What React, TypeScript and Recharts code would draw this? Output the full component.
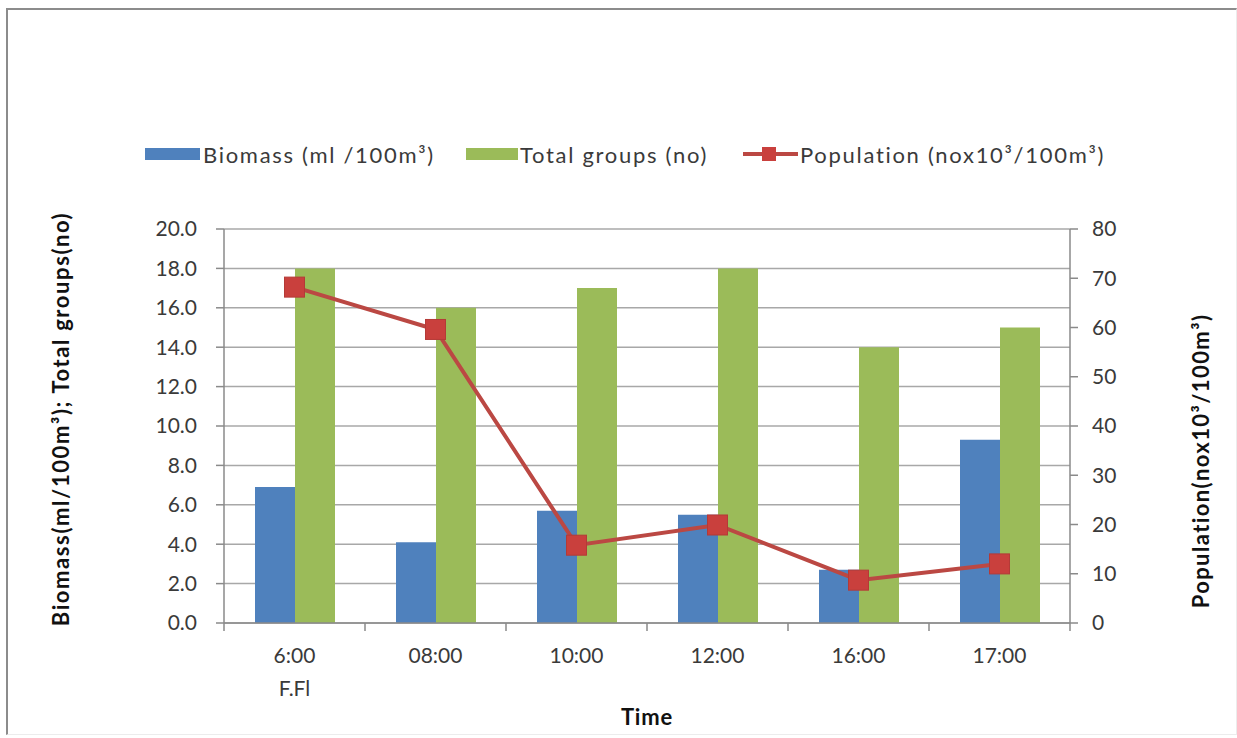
import React from 'react';
import {
  ComposedChart,
  Bar,
  Line,
  XAxis,
  YAxis,
  CartesianGrid,
} from 'recharts';

// Sampling times (second word, if any, goes on a second line)
const times = ['6:00 F.Fl', '08:00', '10:00', '12:00', '16:00', '17:00'];
// Biomass (ml / 100 m³)
const biomass = [6.9, 4.1, 5.7, 5.5, 2.7, 9.3];
// Total groups (no)
const totalGroups = [18, 16, 17, 18, 14, 15];
// Population (no x10³ / 100 m³)
const population = [68.2, 59.6, 15.8, 19.9, 8.7, 12.0];

const leftTicks = [0, 2, 4, 6, 8, 10, 12, 14, 16, 18, 20];
const rightTicks = [0, 10, 20, 30, 40, 50, 60, 70, 80];

const data = times.map((t, i) => ({
  time: t,
  biomass: biomass[i],
  groups: totalGroups[i],
  population: population[i],
}));

const FONT = 'Lato, "Open Sans", sans-serif';
const TEXT = '#3a3a3a';
const AXIS = '#8a8a8a';
const BLUE = '#4f81bd';
const GREEN = '#9bbb59';
const RED_LINE = '#bb4843';
const RED_MARK = '#c9403d';

const tickStyle = { fontFamily: FONT, fontSize: 21, fill: TEXT };

function TimeTick(props: any) {
  const { x, y, payload, index } = props;
  const half = payload && payload.offset ? payload.offset : 70.5;
  const lines = String(payload.value).split(' ');
  const isLast = index === times.length - 1;
  return (
    <g>
      <line x1={x - half} y1={y} x2={x - half} y2={y + 8} stroke={AXIS} strokeWidth={1.5} />
      {isLast && (
        <line x1={x + half} y1={y} x2={x + half} y2={y + 8} stroke={AXIS} strokeWidth={1.5} />
      )}
      {lines.map((ln, k) => (
        <text
          key={k}
          x={x}
          y={y + 40 + k * 33}
          textAnchor="middle"
          fontFamily={FONT}
          fontSize={21}
          fill={TEXT}
        >
          {ln}
        </text>
      ))}
    </g>
  );
}

function SquareDot(props: any) {
  const { cx, cy } = props;
  if (cx == null || cy == null) return null;
  const s = 20;
  return (
    <rect
      x={cx - s / 2}
      y={cy - s / 2}
      width={s}
      height={s}
      fill={RED_MARK}
      stroke="#b43a37"
      strokeWidth={1}
    />
  );
}

const legendText: React.CSSProperties = {
  position: 'absolute',
  top: 141,
  fontSize: 22,
  letterSpacing: 1.7,
  color: TEXT,
  whiteSpace: 'nowrap',
  lineHeight: '28px',
};

const titleText: React.CSSProperties = {
  position: 'absolute',
  fontSize: 22,
  fontWeight: 700,
  color: '#111',
  whiteSpace: 'nowrap',
};

export default function App() {
  return (
    <div
      style={{
        position: 'absolute',
        left: 0,
        top: 0,
        width: 1237,
        height: 738,
        background: '#ffffff',
        overflow: 'hidden',
        fontFamily: FONT,
      }}
    >
      {/* frame */}
      <div
        style={{
          position: 'absolute',
          left: 6,
          top: 8,
          width: 1228,
          height: 724,
          borderTop: '2px solid #8c8c8c',
          borderLeft: '2px solid #8c8c8c',
          borderRight: '1px solid #ececec',
          borderBottom: '1px solid #ececec',
        }}
      />

      <ComposedChart
        width={1237}
        height={738}
        data={data}
        margin={{ top: 229, right: 107, bottom: 75, left: 164 }}
        barCategoryGap={31}
        barGap={0}
        style={{ position: 'absolute', left: 0, top: 0 }}
      >
        <CartesianGrid yAxisId="left" vertical={false} stroke="#a8a8a8" strokeWidth={1.5} />
        <XAxis
          dataKey="time"
          height={40}
          tickSize={0}
          tickMargin={0}
          tickLine={false}
          axisLine={{ stroke: AXIS, strokeWidth: 1.5 }}
          tick={<TimeTick />}
          interval={0}
        />
        <YAxis
          yAxisId="left"
          width={60}
          domain={[0, 20]}
          ticks={leftTicks}
          interval={0}
          tickFormatter={(v: number) => v.toFixed(1)}
          tickSize={8}
          tickMargin={19}
          tick={tickStyle}
          axisLine={{ stroke: AXIS, strokeWidth: 1.5 }}
          tickLine={{ stroke: AXIS, strokeWidth: 1.5 }}
        />
        <YAxis
          yAxisId="right"
          orientation="right"
          width={60}
          domain={[0, 80]}
          ticks={rightTicks}
          interval={0}
          tickSize={8}
          tickMargin={14}
          tick={{ ...tickStyle, textAnchor: 'start' }}
          axisLine={{ stroke: AXIS, strokeWidth: 1.5 }}
          tickLine={{ stroke: AXIS, strokeWidth: 1.5 }}
        />
        <Bar yAxisId="left" dataKey="biomass" fill={BLUE} isAnimationActive={false} />
        <Bar yAxisId="left" dataKey="groups" fill={GREEN} isAnimationActive={false} />
        <Line
          yAxisId="right"
          dataKey="population"
          stroke={RED_LINE}
          strokeWidth={4}
          dot={<SquareDot />}
          activeDot={false}
          isAnimationActive={false}
        />
      </ComposedChart>

      {/* legend */}
      <div style={{ position: 'absolute', left: 145, top: 148, width: 55, height: 12, background: BLUE }} />
      <div style={{ ...legendText, left: 203 }}>Biomass (ml /100m³)</div>
      <div style={{ position: 'absolute', left: 466, top: 148, width: 52, height: 12, background: GREEN }} />
      <div style={{ ...legendText, left: 520 }}>Total groups (no)</div>
      <div style={{ position: 'absolute', left: 743, top: 152, width: 55, height: 4, background: RED_LINE }} />
      <div style={{ position: 'absolute', left: 762, top: 147, width: 14, height: 14, background: RED_MARK }} />
      <div style={{ ...legendText, left: 800 }}>Population (nox10³/100m³)</div>

      {/* axis titles */}
      <div
        style={{
          ...titleText,
          left: 60,
          top: 419,
          letterSpacing: 1.6,
          transform: 'translate(-50%, -50%) rotate(-90deg)',
        }}
      >
        Biomass(ml/100m³); Total groups(no)
      </div>
      <div
        style={{
          ...titleText,
          left: 1200,
          top: 461,
          letterSpacing: 1.4,
          transform: 'translate(-50%, -50%) rotate(-90deg)',
        }}
      >
        Population(nox10³/100m³)
      </div>
      <div
        style={{
          ...titleText,
          left: 647,
          top: 716,
          letterSpacing: 0.8,
          transform: 'translate(-50%, -50%)',
        }}
      >
        Time
      </div>
    </div>
  );
}
